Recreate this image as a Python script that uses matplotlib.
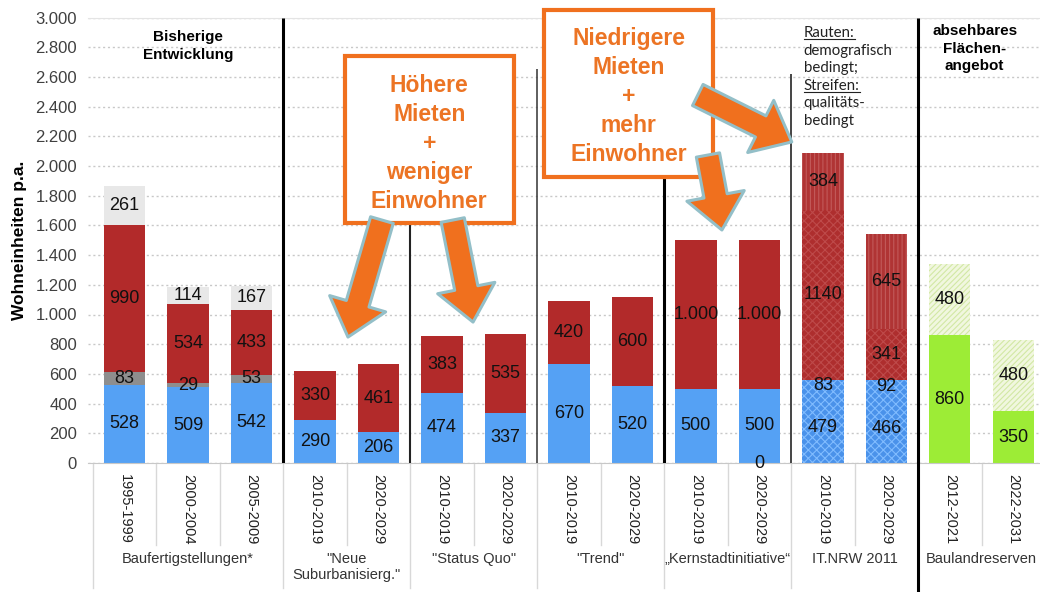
import numpy as np
import matplotlib
matplotlib.use("Agg")
import matplotlib.pyplot as plt
from matplotlib.patches import Rectangle
from matplotlib.lines import Line2D
from matplotlib.transforms import blended_transform_factory, IdentityTransform

plt.rcParams['font.family'] = ['Liberation Sans', 'DejaVu Sans']
plt.rcParams['hatch.linewidth'] = 0.8

nan = np.nan

# Zeitraeume (ein Balken je Eintrag) und Gruppen darunter
zeitraeume = ["1995-1999", "2000-2004", "2005-2009",
              "2010-2019", "2020-2029", "2010-2019", "2020-2029",
              "2010-2019", "2020-2029", "2010-2019", "2020-2029",
              "2010-2019", "2020-2029", "2012-2021", "2022-2031"]
gruppen = ["Baufertigstellungen*", "\"Neue\nSuburbanisierg.\"", "\"Status Quo\"",
           "\"Trend\"", "\u201eKernstadtinitiative\u201c", "IT.NRW 2011", "Baulandreserven"]
gruppen_groesse = [3, 2, 2, 2, 2, 2, 2]

# Segmente von unten nach oben (Wohneinheiten p.a.)
null_seg = [nan, nan, nan, nan, nan, nan, nan, nan, nan, nan, 0, nan, nan, nan, nan]
basis = [528, 509, 542, 290, 206, 474, 337, 670, 520, 500, 500, 479, 466, 860, 350]
zweite = [83, 29, 53, nan, nan, nan, nan, nan, nan, nan, nan, 83, 92, nan, nan]
rot = [990, 534, 433, 330, 461, 383, 535, 420, 600, 1000, 1000, 1140, 341, nan, nan]
oben = [261, 114, 167, nan, nan, nan, nan, nan, nan, nan, nan, 384, 645, 480, 480]

y_ticks = list(range(0, 3001, 200))

BLAU = '#55a1f4'
BLAU_R = '#4a92ea'
ROT = '#b22a2a'
ROT_R = '#ae2e2e'
ROT_S = '#b03434'
GRAU = '#8e8e8e'
HELLGRAU = '#e8e8e8'
GRUEN = '#9dec36'
GRUEN_H = '#f1f7df'
ORANGE = '#f0701e'
PFEIL_RAND = '#93bfc8'

x = np.arange(len(zeitraeume))
gid = np.repeat(np.arange(len(gruppen)), gruppen_groesse)


def stil(schicht, g):
    # liefert facecolor, hatch, hatchfarbe
    if schicht in (0, 1, 2):
        if g == 6:
            return GRUEN, None, None
        if g == 5:
            return BLAU_R, 'xxxx', '#80bcff'
        if schicht == 2 and g == 0:
            return GRAU, None, None
        return BLAU, None, None
    if schicht == 3:
        if g == 5:
            return ROT_R, 'xxxx', '#be4a4a'
        return ROT, None, None
    if g == 0:
        return HELLGRAU, None, None
    if g == 5:
        return ROT_S, '||||', '#c25a5a'
    return GRUEN_H, '//////', '#d2e8a4'


def fmt(v, g):
    v = int(v)
    return f"{v:,}".replace(",", ".") if g == 4 else str(v)


fig = plt.figure(figsize=(10.4, 5.92), dpi=100)
ax = fig.add_axes([88 / 1040, 129 / 592, 952 / 1040, 445.5 / 592])

unten = np.zeros(len(x))
for s, werte in enumerate([null_seg, basis, zweite, rot, oben]):
    for i in x:
        v = werte[i]
        if np.isnan(v):
            continue
        fc, h, hc = stil(s, gid[i])
        ax.bar(i, v, 0.65, bottom=unten[i], color=fc, hatch=h,
               edgecolor=hc if h else fc, linewidth=0, zorder=2)
        ax.text(i, unten[i] + v / 2, fmt(v, gid[i]), ha='center', va='center',
                fontsize=13, color='#111111', zorder=4)
        unten[i] += v

ax.set_xlim(-0.575, 14.42)
ax.set_ylim(0, 3000)
ax.set_yticks(y_ticks, [f"{t:,}".replace(",", ".") for t in y_ticks])
ax.tick_params(axis='y', length=0, pad=8, labelsize=12, labelcolor='#404040')
ax.set_xticks(x, zeitraeume, rotation=270, fontsize=10.5, color='#222222')
ax.tick_params(axis='x', length=0, pad=8)
ax.yaxis.grid(True, linestyle=(0, (1.5, 2)), color='#c8c8c8', lw=1)
ax.set_axisbelow(True)
for sp in ['left', 'right']:
    ax.spines[sp].set_visible(False)
ax.spines['top'].set_color('#e4e4e4')
ax.spines['bottom'].set_color('#c8c8c8')
ax.set_ylabel("Wohneinheiten p.a.", fontsize=12.5, fontweight='bold')
ax.yaxis.set_label_coords(-0.064, 0.5)

# Trennlinien zwischen den Gruppen
grenzen = np.cumsum(gruppen_groesse)[:-1] - 0.5
trenn_stil = [(3000, 2.2, 'black'), (2650, 1.5, '#222222'), (2650, 1.1, '#333333'),
              (2650, 2.2, 'black'), (2620, 1.4, '#444444'), (3000, 2.2, 'black')]
for gx, (ymax, lw, c) in zip(grenzen, trenn_stil):
    ax.vlines(gx, 0, ymax, colors=c, lw=lw, zorder=3)

# Tabellenlinien unter der Achse
trans = blended_transform_factory(ax.transData, ax.transAxes)
gruppen_start = np.concatenate([[0], np.cumsum(gruppen_groesse)[:-1]])
for b in np.arange(-0.5, len(x) - 0.5):
    lang = (b + 0.5) in gruppen_start
    ax.plot([b, b], [0, -0.28 if lang else -0.184], transform=trans,
            color='#d8d8d8', lw=1, clip_on=False, zorder=1)
ax.plot([grenzen[-1]] * 2, [0, -0.3], transform=trans, color='black', lw=2.2,
        clip_on=False, zorder=3)

for g, (st, n) in enumerate(zip(gruppen_start, gruppen_groesse)):
    ax.text(st + (n - 1) / 2, -0.2, gruppen[g], transform=trans, ha='center',
            va='top', fontsize=10.5, color='#333333', linespacing=1.15)

# Ueberschriften
ax.text(1, 2808, "Bisherige\nEntwicklung", ha='center', va='center',
        fontsize=11, fontweight='bold', linespacing=1.35, zorder=4)
ax.text(13.39, 2791, "absehbares\nFl\u00e4chen-\nangebot", ha='center', va='center',
        fontsize=11, fontweight='bold', linespacing=1.3, zorder=4)

rauten = ["Rauten:", "demografisch", "bedingt;", "Streifen:", "qualit\u00e4ts-", "bedingt"]
rauten_txt = []
for k, zeile in enumerate(rauten):
    t = ax.text(10.70, 2869 - k * 118.5, zeile, ha='left', va='baseline',
                fontsize=10.8, family=['Lato', 'DejaVu Sans'], color='#222222', zorder=4)
    rauten_txt.append(t)

# Orange Kaesten
kaesten = [((3.47, 1616), 6.13 - 3.47, 2741 - 1616, (4.80, 2150),
            "H\u00f6here\nMieten\n+\nweniger\nEinwohner"),
           ((6.61, 1926), 9.27 - 6.61, 3051 - 1926, (7.94, 2470),
            "Niedrigere\nMieten\n+\nmehr\nEinwohner")]
for xy, w, h, mitte, txt in kaesten:
    ax.add_patch(Rectangle(xy, w, h, facecolor='white', edgecolor=ORANGE, lw=3,
                           clip_on=False, zorder=5))
    ax.text(mitte[0], mitte[1], txt, ha='center', va='center', fontsize=16.5,
            fontweight='bold', color='#ec7424', linespacing=1.33, zorder=6)

# Pfeile
pfeile = [((4.055, 1636), (3.52, 848)),
          ((5.17, 1636), (5.49, 949)),
          ((9.03, 2478), (10.51, 2162)),
          ((9.19, 2074), (9.41, 1569))]
for von, nach in pfeile:
    ax.annotate('', xy=nach, xytext=von, zorder=7, annotation_clip=False,
                arrowprops=dict(arrowstyle='simple,head_length=2.5,head_width=4.2,tail_width=1.7',
                                mutation_scale=10, fc=ORANGE, ec=PFEIL_RAND, lw=2.2,
                                shrinkA=0, shrinkB=0))

# Unterstreichungen
fig.canvas.draw()
for t in (rauten_txt[0], rauten_txt[3]):
    bb = t.get_window_extent()
    y0 = ax.transData.transform(t.get_position())[1] - 2
    fig.add_artist(Line2D([bb.x0, bb.x1], [y0, y0], transform=IdentityTransform(),
                          color='#222222', lw=0.8))

fig.savefig("out.png", dpi=100)
